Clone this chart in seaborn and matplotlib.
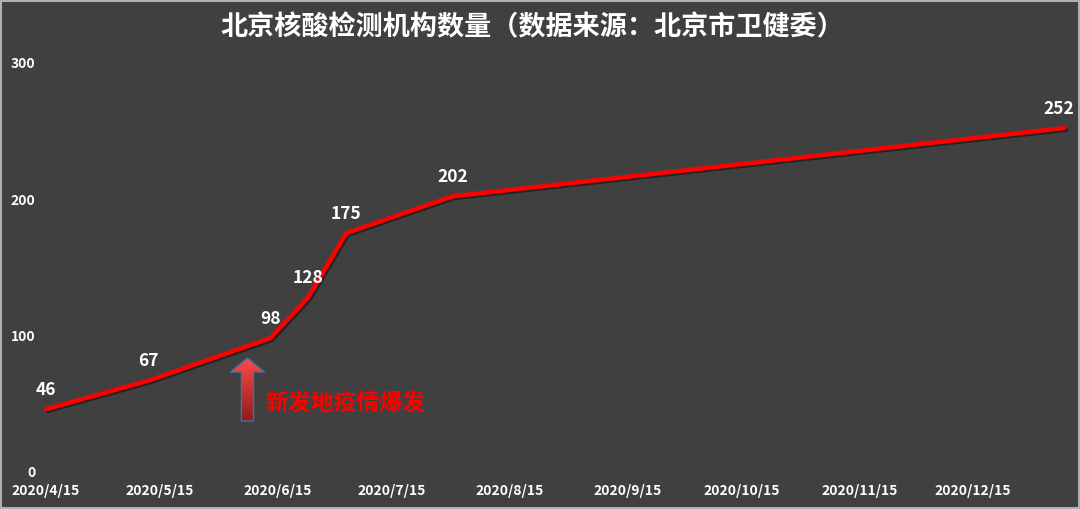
import numpy as np
import pandas as pd
import seaborn as sns
import matplotlib.pyplot as plt
import matplotlib.dates as mdates
import matplotlib.patheffects as pe
from matplotlib.patches import Polygon
from matplotlib.colors import LinearSegmentedColormap

dates = ['2020-04-15', '2020-05-12', '2020-06-13', '2020-06-23', '2020-07-03', '2020-07-31', '2021-01-08']
counts = [46, 67, 98, 128, 175, 202, 252]
tick_dates = ['2020-04-15', '2020-05-15', '2020-06-15', '2020-07-15', '2020-08-15',
              '2020-09-15', '2020-10-15', '2020-11-15', '2020-12-15']
tick_labels = ['2020/4/15', '2020/5/15', '2020/6/15', '2020/7/15', '2020/8/15',
               '2020/9/15', '2020/10/15', '2020/11/15', '2020/12/15']
y_ticks = [0, 100, 200, 300]
event_date = '2020-06-07'
event_text = '新发地疫情爆发'
title = '北京核酸检测机构数量（数据来源：北京市卫健委）'

df = pd.DataFrame({'date': pd.to_datetime(dates), 'count': counts})

bg = '#404040'
sns.set_style('dark', {'axes.facecolor': bg, 'figure.facecolor': bg})
plt.rcParams['font.family'] = ['Noto Sans CJK SC', 'DejaVu Sans']

fig = plt.figure(figsize=(10.8, 5.09), dpi=100)
fig.patch.set_edgecolor('#b0b0b0')
fig.patch.set_linewidth(1.5)
ax = fig.add_axes([40 / 1080, 31 / 509, 1035 / 1080, 428 / 509])

sns.lineplot(data=df, x='date', y='count', color='#ff0000', linewidth=3.2, ax=ax,
             path_effects=[pe.SimpleLineShadow(offset=(1.2, -1.2), shadow_color='black', alpha=0.45),
                           pe.Normal()])

# value labels above each point (last one nudged left to stay inside)
for i, (d, c) in enumerate(zip(df['date'], df['count'])):
    dx = -4 if i == len(df) - 1 else 0
    ax.annotate(str(c), (d, c), xytext=(dx, 14), textcoords='offset points',
                ha='center', va='center', color='white', fontsize=12.5, fontweight='bold')

start = mdates.date2num(pd.Timestamp('2020-04-15'))

ax.set_xticks(pd.to_datetime(tick_dates))
ax.set_xticklabels(tick_labels)
ax.set_yticks(y_ticks)
ax.tick_params(axis='x', colors='white', labelsize=10, pad=4.5, length=0)
ax.tick_params(axis='y', colors='white', labelsize=10, pad=3.5, length=0)
for lab in ax.get_xticklabels() + ax.get_yticklabels():
    lab.set_fontweight('bold')
ax.set_xlabel('')
ax.set_ylabel('')
ax.grid(False)
for s in ax.spines.values():
    s.set_visible(False)

# gradient arrow marking the outbreak
ex = mdates.date2num(pd.Timestamp(event_date))
tip, head_base, bottom = 83.5, 73.2, 37.4
hw, sw = 4.5, 1.6
pts = [(ex, tip), (ex + hw, head_base), (ex + sw, head_base), (ex + sw, bottom),
       (ex - sw, bottom), (ex - sw, head_base), (ex - hw, head_base)]
arrow = Polygon(pts, closed=True, facecolor='none', edgecolor='#41719c', linewidth=1.0, zorder=4)
ax.add_patch(arrow)
grad = np.linspace(0, 1, 256).reshape(-1, 1)
cmap = LinearSegmentedColormap.from_list('arr', ['#ff4a4a', '#8e1c1c'])
im = ax.imshow(grad, cmap=cmap, aspect='auto', extent=(ex - hw, ex + hw, bottom, tip),
               origin='upper', zorder=3)
im.set_clip_path(arrow)
ax.set_xlim(start - 1.6, start + 270.8)
ax.set_ylim(-4.4, 309.2)

ax.text(ex + 4.7, 49.8, event_text, color='#ff0000', fontsize=16.5, fontweight='bold',
        ha='left', va='center')

fig.text(0.493, 1 - 27 / 509, title, color='white', fontsize=19.5, fontweight='bold',
         ha='center', va='center')

fig.savefig('out.png', dpi=100, facecolor=fig.get_facecolor(), edgecolor=fig.patch.get_edgecolor())
